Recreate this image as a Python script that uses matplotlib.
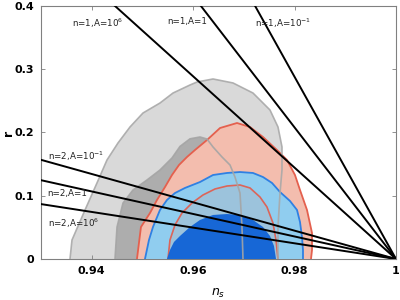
import numpy as np
import matplotlib as mpl
mpl.use("Agg")
import matplotlib.pyplot as plt

mpl.rcParams.update({"font.family": "DejaVu Sans", "font.size": 8})

# --- contour outlines (n_s, r) ---------------------------------------------
GRAY95_NS = [0.93572, 0.93611, 0.93868, 0.94104, 0.94301, 0.94518, 0.94755, 0.95011,
             0.95346, 0.95603, 0.95938, 0.96076, 0.96392, 0.96786, 0.97180, 0.97515,
             0.97673, 0.97752, 0.97752, 0.97713, 0.97673, 0.97673]
GRAY95_R = [0.0, 0.030, 0.0775, 0.1202, 0.1565, 0.1834, 0.2087, 0.2308,
            0.2466, 0.2624, 0.2751, 0.2798, 0.2846, 0.2783, 0.2624, 0.2356,
            0.2087, 0.1771, 0.1407, 0.1043, 0.0506, 0.0]
GRAY68_NS = [0.94459, 0.94499, 0.94617, 0.94814, 0.95090, 0.95346, 0.95583, 0.95741,
             0.95938, 0.96135, 0.96273, 0.96392, 0.96569, 0.96727, 0.96825, 0.96924,
             0.96963, 0.96983]
GRAY68_R = [0.0, 0.0506, 0.0885, 0.1091, 0.1249, 0.1407, 0.1597, 0.1780,
            0.1900, 0.1929, 0.1897, 0.1771, 0.1613, 0.1486, 0.1296, 0.1043,
            0.0506, 0.0]
RED95_NS = [0.94892, 0.94971, 0.95149, 0.95287, 0.95445, 0.95583, 0.95721, 0.95879,
            0.96036, 0.96273, 0.96530, 0.96865, 0.97121, 0.97377, 0.97653, 0.97851,
            0.98008, 0.98107, 0.98245, 0.98344, 0.98344, 0.98324]
RED95_R = [0.0, 0.0506, 0.0727, 0.0933, 0.1138, 0.1328, 0.1486, 0.1613,
           0.1723, 0.1881, 0.2071, 0.2150, 0.2087, 0.1929, 0.1723, 0.1565,
           0.1328, 0.1091, 0.0775, 0.0411, 0.0142, 0.0]
RED68_NS = [0.95504, 0.95543, 0.95642, 0.95780, 0.95977, 0.96194, 0.96431, 0.96668,
            0.96924, 0.97121, 0.97318, 0.97456, 0.97574, 0.97634, 0.97673]
RED68_R = [0.0, 0.030, 0.0538, 0.0727, 0.0885, 0.1012, 0.1107, 0.1154,
           0.1170, 0.1123, 0.0980, 0.0822, 0.0569, 0.030, 0.0]
BLUE95_NS = [0.95050, 0.95129, 0.95208, 0.95346, 0.95484, 0.95642, 0.95839, 0.96135,
             0.96392, 0.96668, 0.96924, 0.97180, 0.97377, 0.97555, 0.97713, 0.97910,
             0.98048, 0.98107, 0.98146, 0.98166, 0.98166]
BLUE95_R = [0.0, 0.030, 0.0506, 0.0775, 0.0933, 0.1043, 0.1123, 0.1217,
            0.1328, 0.1360, 0.1375, 0.1360, 0.1296, 0.1202, 0.1059, 0.0917,
            0.0775, 0.0585, 0.0348, 0.0142, 0.0]
BLUE68_NS = [0.95484, 0.95543, 0.95622, 0.95741, 0.95938, 0.96135, 0.96392, 0.96668,
             0.96924, 0.97180, 0.97377, 0.97515, 0.97594, 0.97634]
BLUE68_R = [0.0, 0.0142, 0.0269, 0.0364, 0.0506, 0.0617, 0.0696, 0.0711,
            0.0696, 0.0617, 0.0506, 0.0364, 0.0206, 0.0]

# --- model lines r = k (1 - n_s) --------------------------------------------
LINE_SLOPES = [7.22, 10.4, 14.4, 2.24, 1.78, 1.24]
LINE_LABELS = ["n=1,A=10$^6$", "n=1,A=1", "n=1,A=10$^{-1}$",
               "n=2,A=10$^{-1}$", "n=2,A=1", "n=2,A=10$^6$"]
LABEL_POS = [(0.9361, 0.373), (0.9548, 0.375), (0.9722, 0.373),
             (0.9313, 0.163), (0.9313, 0.103), (0.9313, 0.056)]


def _close(ns, r):
    return list(ns) + [ns[0]], list(r) + [r[0]]


fig = plt.figure(figsize=(4.0, 3.0), dpi=100)
ax = fig.add_axes([0.1025, 0.1367, 0.8875, 0.8433])

ax.fill(*_close(GRAY95_NS, GRAY95_R), color="#d9d9d9", lw=0, zorder=1)
ax.fill(*_close(GRAY68_NS, GRAY68_R), color="#adadad", lw=0, zorder=2)
ax.fill(*_close(RED95_NS, RED95_R), color="#f3bdae", lw=0, zorder=3)
ax.plot(RED95_NS, RED95_R, color="#e4604e", lw=1.3, zorder=3.5)
ax.fill(*_close(BLUE95_NS, BLUE95_R), color="#90cdef", lw=0, zorder=4)
ax.plot(BLUE95_NS, BLUE95_R, color="#2f80e3", lw=1.3, zorder=4.5)
ax.fill(*_close(RED68_NS, RED68_R), color="#9cc3dc", lw=0, zorder=5)
ax.plot(RED68_NS, RED68_R, color="#dc6458", lw=1.2, zorder=5.5)
ax.fill(*_close(BLUE68_NS, BLUE68_R), color="#1767d6", lw=0, zorder=6)
ax.plot(GRAY95_NS, GRAY95_R, color="#a9a9a9", lw=1.2, alpha=0.9, zorder=7)
ax.plot(GRAY68_NS, GRAY68_R, color="#a5a5a5", lw=1.2, alpha=0.9, zorder=7)

ns = np.linspace(0.93, 1.0, 50)
for k in LINE_SLOPES:
    ax.plot(ns, k * (1 - ns), color="black", lw=1.4, zorder=8)
for lab, (x, y) in zip(LINE_LABELS, LABEL_POS):
    ax.text(x, y, lab, fontsize=6.3, color="#222222", ha="left", va="center", zorder=9)

ax.set_xlim(0.93, 1.0)
ax.set_ylim(0, 0.4)
ax.set_xticks([0.94, 0.96, 0.98, 1.0])
ax.set_xticklabels(["0.94", "0.96", "0.98", "1"])
ax.set_yticks([0, 0.1, 0.2, 0.3, 0.4])
ax.set_yticklabels(["0", "0.1", "0.2", "0.3", "0.4"])
ax.tick_params(direction="in", length=3, width=0.6, color="#808080",
               labelsize=8, pad=5, top=True, right=True)
for lbl in ax.get_xticklabels() + ax.get_yticklabels():
    lbl.set_fontweight("bold")
for s in ax.spines.values():
    s.set_color("#808080")
    s.set_linewidth(0.8)
ax.set_xlabel("$\\boldsymbol{n_s}$", fontsize=9, labelpad=8)
ax.set_ylabel("r", fontsize=9, fontweight="bold", rotation=90)
ax.yaxis.set_label_coords(-0.072, 0.5)

fig.savefig("out.png", dpi=100)
